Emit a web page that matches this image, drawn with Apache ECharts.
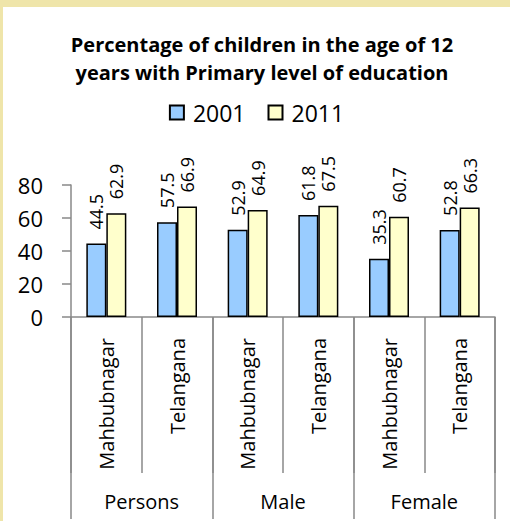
<!DOCTYPE html>
<html>
<head>
<meta charset="utf-8">
<script src="https://cdn.jsdelivr.net/npm/echarts@6/dist/echarts.min.js"></script>
<style>
  html, body { margin: 0; padding: 0; background: #efe5aa; }
  #chart { position: absolute; left: 3px; top: 7px; width: 507px; height: 514px; background: #fff; }
</style>
</head>
<body>
<div id="chart"></div>
<script>
const titleText = "Percentage of children in the age of 12\nyears with Primary level of education";
const districts = ["Mahbubnagar", "Telangana", "Mahbubnagar", "Telangana", "Mahbubnagar", "Telangana"];
const groups = ["Persons", "Male", "Female"];
const seriesNames = ["2001", "2011"];
const values2001 = [44.5, 57.5, 52.9, 61.8, 35.3, 52.8];
const values2011 = [62.9, 66.9, 64.9, 67.5, 60.7, 66.3];
const yMin = 0, yMax = 80, yStep = 20;

const font = "'Open Sans', sans-serif";
const axisGrey = "#898989";

const chart = echarts.init(document.getElementById("chart"), null, { renderer: "svg" });

function barSeries(name, data, color) {
  return {
    name,
    type: "bar",
    xAxisIndex: 0,
    data,
    barWidth: 20,
    barGap: "0%",
    itemStyle: { color, borderColor: "#000", borderWidth: 1.5 },
    label: {
      show: true,
      position: "top",
      rotate: 90,
      align: "left",
      verticalAlign: "middle",
      distance: 14,
      color: "#000",
      fontFamily: font,
      fontSize: 18,
    },
  };
}

chart.setOption({
  animation: false,
  title: {
    text: titleText,
    left: 259,
    textAlign: "center",
    top: 23,
    padding: 0,
    textStyle: { fontFamily: font, fontWeight: "bold", fontSize: 20, lineHeight: 28, color: "#000" },
  },
  legend: {
    data: seriesNames,
    left: "center",
    top: 89,
    icon: "rect",
    itemWidth: 14,
    itemHeight: 14,
    itemGap: 22,
    textStyle: { fontFamily: font, fontSize: 23, color: "#000", padding: [0, 0, 0, 4] },
  },
  grid: { left: 68, right: 15, top: 178, bottom: 204 },
  xAxis: [
    {
      type: "category",
      data: districts,
      position: "bottom",
      axisLine: { show: true, lineStyle: { color: axisGrey, width: 1.5 } },
      axisTick: { show: true, length: 156, lineStyle: { color: axisGrey, width: 1.5 } },
      axisLabel: { show: true, interval: 0, rotate: 90, margin: 21, color: "#000", fontFamily: font, fontSize: 20 },
    },
    {
      type: "category",
      data: groups,
      position: "bottom",
      axisLine: { show: false },
      axisTick: { show: true, length: 202, lineStyle: { color: axisGrey, width: 1.5 } },
      axisLabel: { show: true, interval: 0, margin: 174, color: "#000", fontFamily: font, fontSize: 20 },
    },
  ],
  yAxis: {
    type: "value",
    min: yMin,
    max: yMax,
    interval: yStep,
    axisLine: { show: true, lineStyle: { color: axisGrey, width: 1.5 } },
    axisTick: { show: true, length: 9, lineStyle: { color: axisGrey, width: 1.5 } },
    splitLine: { show: false },
    axisLabel: { margin: 28, color: "#000", fontFamily: font, fontSize: 22 },
  },
  series: [
    barSeries(seriesNames[0], values2001, "#99ccff"),
    barSeries(seriesNames[1], values2011, "#ffffcc"),
  ],
});
</script>
</body>
</html>
